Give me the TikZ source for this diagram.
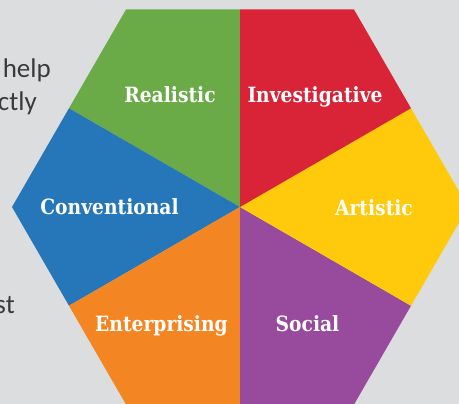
\documentclass[tikz,border=0pt]{standalone}
\usepackage{fontspec}
\newfontfamily\labfont[FakeStretch=0.89]{DejaVu Serif}
\newfontfamily\bodyfont{Carlito}
\definecolor{bg}{HTML}{DCDDDE}
\definecolor{cgreen}{HTML}{6AAB47}
\definecolor{cred}{HTML}{D92437}
\definecolor{cyellow}{HTML}{FFC90C}
\definecolor{cpurple}{HTML}{984B9C}
\definecolor{corange}{HTML}{F38622}
\definecolor{cblue}{HTML}{2677BA}
\definecolor{ctext}{HTML}{3A3A3A}
\tikzset{
  lab/.style={anchor=base, text=white, font=\labfont\bfseries\fontsize{21}{24}\selectfont, inner sep=0pt},
  body/.style={anchor=base east, text=ctext, font=\bodyfont\fontsize{27}{32}\selectfont, inner sep=0pt},
}
\begin{document}
\begin{tikzpicture}[x=1pt,y=-1pt]
\useasboundingbox (0,0) rectangle (459,404);
\fill[bg] (0,0) rectangle (459,404);
\begin{scope}
\clip (0,0) rectangle (459,404);
\coordinate (C) at (240,207);
\coordinate (T) at (240,9.5);
\coordinate (TL) at (126,9.5);
\coordinate (UL) at (69,108.25);
\coordinate (L) at (12,207);
\coordinate (LL) at (69,305.75);
\coordinate (BL) at (126,404.5);
\coordinate (B) at (240,404.5);
\coordinate (BR) at (354,404.5);
\coordinate (LR) at (411,305.75);
\coordinate (R) at (468,207);
\coordinate (UR) at (411,108.25);
\coordinate (TR) at (354,9.5);
\fill[cgreen] (C) -- (T) -- (TL) -- (UL) -- cycle;
\fill[cblue] (C) -- (UL) -- (L) -- (LL) -- cycle;
\fill[corange] (C) -- (LL) -- (BL) -- (B) -- cycle;
\fill[cpurple] (C) -- (B) -- (BR) -- (LR) -- cycle;
\fill[cyellow] (C) -- (LR) -- (R) -- (UR) -- cycle;
\fill[cred] (C) -- (UR) -- (TR) -- (T) -- cycle;
\end{scope}
\node[lab] (real) at (170,103) {Realistic};
\node[lab] (inv) at (315,103) {Investigative};
\node[lab] (conv) at (109.5,215) {Conventional};
\node[lab] (art) at (374,216) {Artistic};
\node[lab] (ent) at (161.5,331) {Enterprising};
\node[lab] (soc) at (307.5,331) {Social};
\node[body] (t1) at (51,78) {help};
\node[body] (t2) at (37,111) {ctly};
\node[body] (t3) at (15,313) {st};
\end{tikzpicture}
\end{document}
